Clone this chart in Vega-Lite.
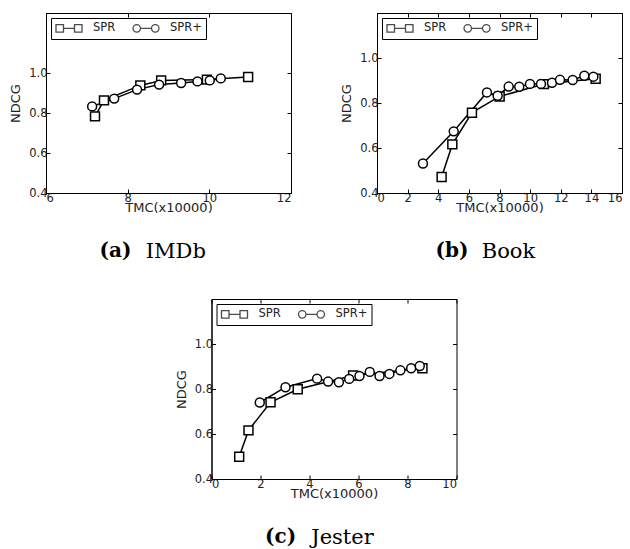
{
  "$schema": "https://vega.github.io/schema/vega-lite/v6.json",
  "padding": {"left": 9, "top": 12, "right": 2, "bottom": 0},
  "background": "white",
  "spacing": 36,
  "center": true,
  "config": {
    "view": {"stroke": "black", "strokeWidth": 1},
    "axis": {
      "domainColor": "black",
      "tickColor": "black",
      "labelColor": "#222",
      "titleColor": "#222",
      "labelFont": "DejaVu Sans",
      "titleFont": "DejaVu Sans",
      "labelFontSize": 11.5,
      "titleFontSize": 13,
      "titleFontWeight": "normal",
      "grid": false,
      "tickSize": -4,
      "labelPadding": 3
    },
    "legend": {
      "orient": "top-left",
      "offset": 5,
      "direction": "horizontal",
      "strokeColor": "black",
      "fillColor": "white",
      "padding": 4,
      "cornerRadius": 0,
      "symbolSize": 100,
      "symbolStrokeWidth": 1.3,
      "labelFont": "DejaVu Sans",
      "labelFontSize": 11.5,
      "labelColor": "#222",
      "labelOffset": 26,
      "columnPadding": 14,
      "title": null
    },
    "title": {
      "orient": "bottom",
      "anchor": "middle",
      "frame": "bounds",
      "font": "DejaVu Serif",
      "fontSize": 20,
      "fontWeight": "bold",
      "color": "black",
      "subtitleFont": "DejaVu Serif",
      "subtitleFontSize": 21,
      "subtitleFontWeight": "normal",
      "subtitleColor": "black",
      "subtitlePadding": -20,
      "offset": 26
    }
  },
  "datasets": {
    "imdb": [
      {"tmc": 7.20, "ndcg": 0.783, "method": "SPR"},
      {"tmc": 7.42, "ndcg": 0.863, "method": "SPR"},
      {"tmc": 8.31, "ndcg": 0.938, "method": "SPR"},
      {"tmc": 8.82, "ndcg": 0.963, "method": "SPR"},
      {"tmc": 9.94, "ndcg": 0.967, "method": "SPR"},
      {"tmc": 10.95, "ndcg": 0.980, "method": "SPR"},
      {"tmc": 7.13, "ndcg": 0.833, "method": "SPR+"},
      {"tmc": 7.67, "ndcg": 0.872, "method": "SPR+"},
      {"tmc": 8.23, "ndcg": 0.917, "method": "SPR+"},
      {"tmc": 8.77, "ndcg": 0.942, "method": "SPR+"},
      {"tmc": 9.31, "ndcg": 0.950, "method": "SPR+"},
      {"tmc": 9.71, "ndcg": 0.958, "method": "SPR+"},
      {"tmc": 10.01, "ndcg": 0.963, "method": "SPR+"},
      {"tmc": 10.28, "ndcg": 0.973, "method": "SPR+"}
    ],
    "book": [
      {"tmc": 4.22, "ndcg": 0.471, "method": "SPR"},
      {"tmc": 4.92, "ndcg": 0.616, "method": "SPR"},
      {"tmc": 6.20, "ndcg": 0.757, "method": "SPR"},
      {"tmc": 8.01, "ndcg": 0.829, "method": "SPR"},
      {"tmc": 10.90, "ndcg": 0.884, "method": "SPR"},
      {"tmc": 14.28, "ndcg": 0.908, "method": "SPR"},
      {"tmc": 3.00, "ndcg": 0.531, "method": "SPR+"},
      {"tmc": 5.01, "ndcg": 0.674, "method": "SPR+"},
      {"tmc": 7.18, "ndcg": 0.847, "method": "SPR+"},
      {"tmc": 7.88, "ndcg": 0.832, "method": "SPR+"},
      {"tmc": 8.60, "ndcg": 0.873, "method": "SPR+"},
      {"tmc": 9.29, "ndcg": 0.872, "method": "SPR+"},
      {"tmc": 9.99, "ndcg": 0.885, "method": "SPR+"},
      {"tmc": 10.71, "ndcg": 0.885, "method": "SPR+"},
      {"tmc": 11.43, "ndcg": 0.890, "method": "SPR+"},
      {"tmc": 11.95, "ndcg": 0.903, "method": "SPR+"},
      {"tmc": 12.78, "ndcg": 0.902, "method": "SPR+"},
      {"tmc": 13.54, "ndcg": 0.921, "method": "SPR+"},
      {"tmc": 14.13, "ndcg": 0.917, "method": "SPR+"}
    ],
    "jester": [
      {"tmc": 1.13, "ndcg": 0.499, "method": "SPR"},
      {"tmc": 1.51, "ndcg": 0.616, "method": "SPR"},
      {"tmc": 2.41, "ndcg": 0.741, "method": "SPR"},
      {"tmc": 3.52, "ndcg": 0.799, "method": "SPR"},
      {"tmc": 5.78, "ndcg": 0.860, "method": "SPR"},
      {"tmc": 8.61, "ndcg": 0.892, "method": "SPR"},
      {"tmc": 1.97, "ndcg": 0.740, "method": "SPR+"},
      {"tmc": 3.02, "ndcg": 0.808, "method": "SPR+"},
      {"tmc": 4.31, "ndcg": 0.846, "method": "SPR+"},
      {"tmc": 4.76, "ndcg": 0.833, "method": "SPR+"},
      {"tmc": 5.20, "ndcg": 0.830, "method": "SPR+"},
      {"tmc": 5.62, "ndcg": 0.845, "method": "SPR+"},
      {"tmc": 6.04, "ndcg": 0.858, "method": "SPR+"},
      {"tmc": 6.46, "ndcg": 0.876, "method": "SPR+"},
      {"tmc": 6.86, "ndcg": 0.858, "method": "SPR+"},
      {"tmc": 7.26, "ndcg": 0.867, "method": "SPR+"},
      {"tmc": 7.71, "ndcg": 0.883, "method": "SPR+"},
      {"tmc": 8.15, "ndcg": 0.892, "method": "SPR+"},
      {"tmc": 8.50, "ndcg": 0.902, "method": "SPR+"}
    ]
  },
  "vconcat": [
    {
      "hconcat": [
        {
          "width": 245,
          "height": 180,
          "data": {"name": "imdb"},
          "title": {"text": "(a)", "subtitle": "\u2800\u2800\u2800IMDb", "align": "left", "dx": -51},
          "resolve": {"axis": {"x": "independent", "y": "independent"}, "scale": {"shape": "independent"}},
          "layer": [
            {
              "mark": {"type": "line", "color": "black", "strokeWidth": 1.5},
              "encoding": {
                "x": {"field": "tmc", "type": "quantitative", "scale": {"domain": [6, 12], "nice": false, "zero": false},
                      "axis": {"orient": "top", "labels": false, "title": null, "domain": false, "values": [6, 8, 10, 12]}},
                "y": {"field": "ndcg", "type": "quantitative", "scale": {"domain": [0.4, 1.3], "nice": false, "zero": false},
                      "axis": {"orient": "right", "labels": false, "title": null, "domain": false, "values": [0.4, 0.6, 0.8, 1.0]}},
                "detail": {"field": "method"},
                "order": {"field": "tmc"}
              }
            },
            {
              "mark": {"type": "point", "filled": true, "fill": "white", "stroke": "black", "strokeWidth": 1.5, "size": 80, "opacity": 1},
              "encoding": {
                "x": {"field": "tmc", "type": "quantitative", "axis": {"orient": "bottom", "title": "TMC(x10000)", "values": [6, 8, 10, 12], "titlePadding": -2}},
                "y": {"field": "ndcg", "type": "quantitative", "axis": {"orient": "left", "title": "NDCG", "values": [0.4, 0.6, 0.8, 1.0], "format": ".1f", "titlePadding": 6}},
                "shape": {"field": "method", "type": "nominal", "scale": {"domain": ["SPR", "SPR+"], "range": ["square", "circle"]}, "legend": null}
              }
            },
            {
              "mark": {"type": "point", "filled": true, "fill": "white", "stroke": "black", "strokeWidth": 1.3, "size": 0},
              "encoding": {
                "x": {"field": "tmc", "type": "quantitative", "axis": null},
                "y": {"field": "ndcg", "type": "quantitative", "axis": null},
                "shape": {"field": "method", "type": "nominal",
                  "scale": {"domain": ["SPR", "SPR+"], "range": ["M-1,-0.75H0.5V0.75H-1Z M0.5,0H2.7 M2.7,-0.75H4.2V0.75H2.7Z", "M0.5,0A0.75,0.75 0 1,1 -1,0A0.75,0.75 0 1,1 0.5,0Z M0.5,0H2.7 M4.2,0A0.75,0.75 0 1,1 2.7,0A0.75,0.75 0 1,1 4.2,0Z"]},
                  "legend": {"symbolSize": 100}}
              }
            }
          ]
        },
        {
          "width": 245,
          "height": 180,
          "data": {"name": "book"},
          "title": {"text": "(b)", "subtitle": "\u2800\u2800\u2800Book", "align": "left", "dx": -46},
          "resolve": {"axis": {"x": "independent", "y": "independent"}, "scale": {"shape": "independent"}},
          "layer": [
            {
              "mark": {"type": "line", "color": "black", "strokeWidth": 1.5},
              "encoding": {
                "x": {"field": "tmc", "type": "quantitative", "scale": {"domain": [0, 16], "nice": false, "zero": false},
                      "axis": {"orient": "top", "labels": false, "title": null, "domain": false, "values": [0, 2, 4, 6, 8, 10, 12, 14, 16]}},
                "y": {"field": "ndcg", "type": "quantitative", "scale": {"domain": [0.4, 1.2], "nice": false, "zero": false},
                      "axis": {"orient": "right", "labels": false, "title": null, "domain": false, "values": [0.4, 0.6, 0.8, 1.0]}},
                "detail": {"field": "method"},
                "order": {"field": "tmc"}
              }
            },
            {
              "mark": {"type": "point", "filled": true, "fill": "white", "stroke": "black", "strokeWidth": 1.5, "size": 80, "opacity": 1},
              "encoding": {
                "x": {"field": "tmc", "type": "quantitative", "axis": {"orient": "bottom", "title": "TMC(x10000)", "values": [0, 2, 4, 6, 8, 10, 12, 14, 16], "titlePadding": -2}},
                "y": {"field": "ndcg", "type": "quantitative", "axis": {"orient": "left", "title": "NDCG", "values": [0.4, 0.6, 0.8, 1.0], "format": ".1f", "titlePadding": 6}},
                "shape": {"field": "method", "type": "nominal", "scale": {"domain": ["SPR", "SPR+"], "range": ["square", "circle"]}, "legend": null}
              }
            },
            {
              "mark": {"type": "point", "filled": true, "fill": "white", "stroke": "black", "strokeWidth": 1.3, "size": 0},
              "encoding": {
                "x": {"field": "tmc", "type": "quantitative", "axis": null},
                "y": {"field": "ndcg", "type": "quantitative", "axis": null},
                "shape": {"field": "method", "type": "nominal",
                  "scale": {"domain": ["SPR", "SPR+"], "range": ["M-1,-0.75H0.5V0.75H-1Z M0.5,0H2.7 M2.7,-0.75H4.2V0.75H2.7Z", "M0.5,0A0.75,0.75 0 1,1 -1,0A0.75,0.75 0 1,1 0.5,0Z M0.5,0H2.7 M4.2,0A0.75,0.75 0 1,1 2.7,0A0.75,0.75 0 1,1 4.2,0Z"]},
                  "legend": {"symbolSize": 100}}
              }
            }
          ]
        }
      ],
      "spacing": 48
    },
    {
      "width": 245,
      "height": 180,
      "data": {"name": "jester"},
      "title": {"text": "(c)", "subtitle": "\u2800\u2800\u2800Jester", "align": "left", "dx": -51},
      "resolve": {"axis": {"x": "independent", "y": "independent"}, "scale": {"shape": "independent"}},
      "layer": [
        {
          "mark": {"type": "line", "color": "black", "strokeWidth": 1.5},
          "encoding": {
            "x": {"field": "tmc", "type": "quantitative", "scale": {"domain": [0, 10], "nice": false, "zero": false},
                  "axis": {"orient": "top", "labels": false, "title": null, "domain": false, "values": [0, 2, 4, 6, 8, 10]}},
            "y": {"field": "ndcg", "type": "quantitative", "scale": {"domain": [0.4, 1.2], "nice": false, "zero": false},
                  "axis": {"orient": "right", "labels": false, "title": null, "domain": false, "values": [0.4, 0.6, 0.8, 1.0]}},
            "detail": {"field": "method"},
            "order": {"field": "tmc"}
          }
        },
        {
          "mark": {"type": "point", "filled": true, "fill": "white", "stroke": "black", "strokeWidth": 1.5, "size": 80, "opacity": 1},
          "encoding": {
            "x": {"field": "tmc", "type": "quantitative", "axis": {"orient": "bottom", "title": "TMC(x10000)", "values": [0, 2, 4, 6, 8, 10], "titlePadding": -2}},
            "y": {"field": "ndcg", "type": "quantitative", "axis": {"orient": "left", "title": "NDCG", "values": [0.4, 0.6, 0.8, 1.0], "format": ".1f", "titlePadding": 6}},
            "shape": {"field": "method", "type": "nominal", "scale": {"domain": ["SPR", "SPR+"], "range": ["square", "circle"]}, "legend": null}
          }
        },
        {
          "mark": {"type": "point", "filled": true, "fill": "white", "stroke": "black", "strokeWidth": 1.3, "size": 0},
          "encoding": {
            "x": {"field": "tmc", "type": "quantitative", "axis": null},
            "y": {"field": "ndcg", "type": "quantitative", "axis": null},
            "shape": {"field": "method", "type": "nominal",
              "scale": {"domain": ["SPR", "SPR+"], "range": ["M-1,-0.75H0.5V0.75H-1Z M0.5,0H2.7 M2.7,-0.75H4.2V0.75H2.7Z", "M0.5,0A0.75,0.75 0 1,1 -1,0A0.75,0.75 0 1,1 0.5,0Z M0.5,0H2.7 M4.2,0A0.75,0.75 0 1,1 2.7,0A0.75,0.75 0 1,1 4.2,0Z"]},
              "legend": {"symbolSize": 100}}
          }
        }
      ]
    }
  ]
}
